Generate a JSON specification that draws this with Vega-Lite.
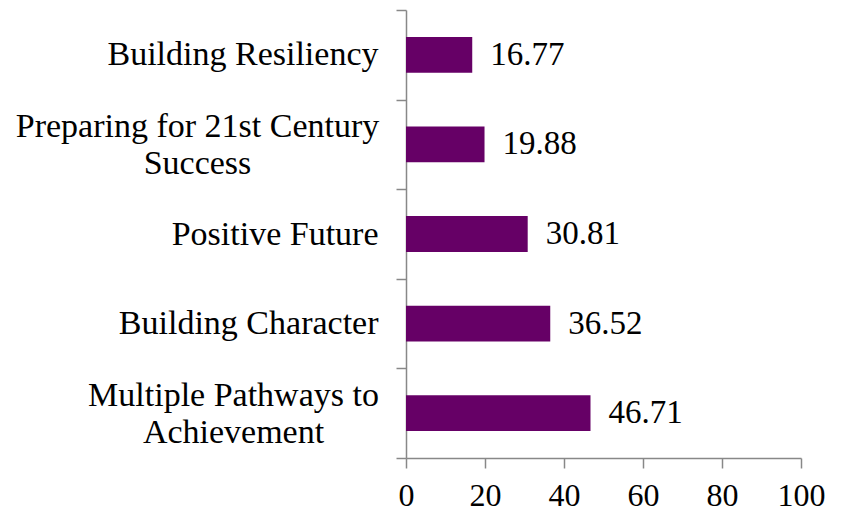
{
  "$schema": "https://vega.github.io/schema/vega-lite/v6.json",
  "width": 395,
  "height": 448,
  "autosize": {"type": "none"},
  "padding": {"left": 406, "top": 10, "right": 42, "bottom": 59},
  "background": "white",
  "data": {
    "values": [
      {"category": "Building Resiliency", "value": 16.77},
      {"category": "Preparing for 21st Century Success", "value": 19.88},
      {"category": "Positive Future", "value": 30.81},
      {"category": "Building Character", "value": 36.52},
      {"category": "Multiple Pathways to Achievement", "value": 46.71}
    ]
  },
  "config": {
    "view": {"stroke": null},
    "font": "Liberation Serif",
    "axis": {
      "labelFont": "Liberation Serif",
      "labelFontSize": 32,
      "labelColor": "black",
      "domainColor": "#888888",
      "tickColor": "#888888",
      "domainWidth": 1.5,
      "tickWidth": 1.5,
      "grid": false,
      "title": null
    }
  },
  "encoding": {
    "y": {
      "field": "category",
      "type": "nominal",
      "sort": null,
      "scale": {"paddingInner": 0, "paddingOuter": 0},
      "axis": {
        "tickBand": "extent",
        "tickSize": 10,
        "labelFontSize": 34,
        "labelPadding": {"condition": [{"test": "datum.value == 'Preparing for 21st Century Success'", "value": 199}, {"test": "datum.value == 'Multiple Pathways to Achievement'", "value": 163}], "value": 18},
        "labelLineHeight": 37,
        "labelLimit": 500,
        "labelAlign": {"condition": {"test": "datum.value == 'Preparing for 21st Century Success' || datum.value == 'Multiple Pathways to Achievement'", "value": "center"}, "value": "right"},
        "labelOffset": {"condition": {"test": "datum.value == 'Preparing for 21st Century Success' || datum.value == 'Multiple Pathways to Achievement'", "value": -18}, "value": 0},
        "labelExpr": "datum.label == 'Preparing for 21st Century Success' ? ['Preparing for 21st Century', 'Success'] : datum.label == 'Multiple Pathways to Achievement' ? ['Multiple Pathways to', 'Achievement'] : datum.label"
      }
    },
    "x": {
      "field": "value",
      "type": "quantitative",
      "scale": {"domain": [0, 100]},
      "axis": {"values": [0, 20, 40, 60, 80, 100], "tickSize": 10, "labelPadding": 12, "labelFlush": false}
    }
  },
  "layer": [
    {
      "mark": {"type": "bar", "color": "#660066", "height": {"band": 0.4}}
    },
    {
      "mark": {"type": "text", "align": "left", "baseline": "middle", "dx": 18, "fontSize": 33, "font": "Liberation Serif", "color": "black"},
      "encoding": {"text": {"field": "value", "type": "quantitative", "format": ".2f"}}
    }
  ]
}
